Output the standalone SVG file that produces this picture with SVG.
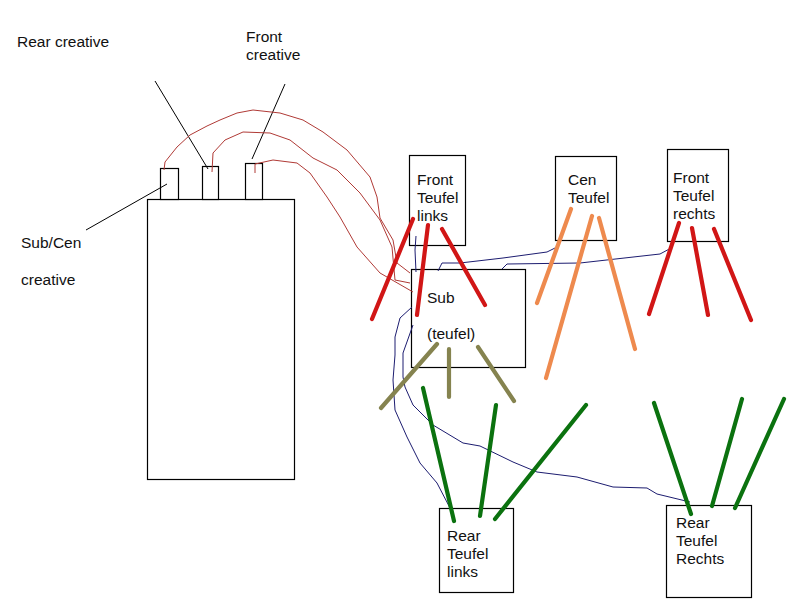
<svg xmlns="http://www.w3.org/2000/svg" width="791" height="616" viewBox="0 0 791 616">
<style>
text{font-family:"Liberation Sans",Arial,sans-serif;font-size:15.500px;fill:#111}
.box{fill:#fff;stroke:#000;stroke-width:1.200}
.l{fill:none;stroke:#000;stroke-width:1}
.r{fill:none;stroke:#b03a36;stroke-width:1;stroke-linejoin:round}
.b{fill:none;stroke:#1c1c70;stroke-width:1;stroke-linejoin:round}
.t{fill:none;stroke-width:4.200;stroke-linecap:round}
.red{stroke:#d11616}.or{stroke:#ee8a4e}.ol{stroke:#85834f}.gr{stroke:#0b720f}
</style>
<rect width="791" height="616" fill="#fff"/>
<g id="creative-unit"><rect class="box" x="147.500" y="199.500" width="147" height="280"/></g>
<g id="port-sub"><rect class="box" x="160.500" y="168.500" width="18" height="31"/></g>
<g id="port-rear"><rect class="box" x="202.500" y="166.500" width="16" height="33"/></g>
<g id="port-front"><rect class="box" x="245.500" y="163.500" width="17" height="36"/></g>
<g id="front-links"><rect class="box" x="409.500" y="155.500" width="56" height="90"/><text x="417" y="185">Front</text><text x="417" y="203">Teufel</text><text x="417" y="221">links</text></g>
<g id="cen"><rect class="box" x="555.500" y="156.500" width="61" height="84"/><text x="568" y="185">Cen</text><text x="568" y="203">Teufel</text></g>
<g id="front-rechts"><rect class="box" x="667.500" y="149.500" width="61" height="92"/><text x="673" y="183">Front</text><text x="673" y="201">Teufel</text><text x="673" y="219">rechts</text></g>
<g id="sub"><rect class="box" x="411.500" y="269.500" width="114" height="98"/><text x="427" y="303">Sub</text><text x="427" y="339">(teufel)</text></g>
<g id="rear-links"><rect class="box" x="439.500" y="508.500" width="74" height="84"/><text x="447" y="541">Rear</text><text x="447" y="559">Teufel</text><text x="447" y="577">links</text></g>
<g id="rear-rechts"><rect class="box" x="666.500" y="505.500" width="85" height="92"/><text x="676" y="528">Rear</text><text x="676" y="546">Teufel</text><text x="676" y="564">Rechts</text></g>
<g id="labels"><text x="17" y="47">Rear creative</text><text x="246" y="42">Front</text><text x="246" y="60">creative</text><text x="21" y="248">Sub/Cen</text><text x="21" y="285">creative</text></g>
<g id="connectors">
<path class="l" d="M155 81L208 169M285 84L252 159M86 230L167 184"/>
<polyline class="r" points="164,170 165,162 177,147 190,135 207,126 220,120 237,113 253,110 280,113 303,120 323,132 347,150 370,177 377,197 380,218 393,240 397,263 410,273"/>
<polyline class="r" points="212,172 213,153 225,140 243,132 270,133 290,140 313,158 337,170 360,193 380,220 392,247 395,280 410,283"/>
<polyline class="r" points="255,173 255,164 273,160 297,163 310,173 327,197 340,217 357,247 380,273 413,292"/>
<polyline class="b" points="416,236 415,250 416,272"/>
<polyline class="b" points="412,307 400,318 395,337 395,355 393,380 395,410 407,437 420,463 437,483 450,508"/>
<polyline class="b" points="413,325 403,353 403,377 405,387 413,405 433,425 463,443 480,446 513,462 537,472 577,477 613,487 647,488 657,494 690,502"/>
<polyline class="b" points="438,271 442,263 460,263 503,258 547,252 557,247"/>
<polyline class="b" points="502,269 507,264 580,263 660,254 673,247"/>
<path class="t red" d="M413 219L372 319M428 225L417 315M442 229L485 305"/>
<path class="t or" d="M571 209L537 303M592 216L546 378M599 218L635 349"/>
<path class="t red" d="M679 223L649 314M692 228L708 315M714 229L751 320"/>
<path class="t ol" d="M437 344L381 408M449 349V397M478 347L514 401"/>
<path class="t gr" d="M423 388L454 521M496 405L480 516M586 405L495 519M654 403L691 514M742 399L712 506M784 399L735 508"/>
</g>
</svg>
